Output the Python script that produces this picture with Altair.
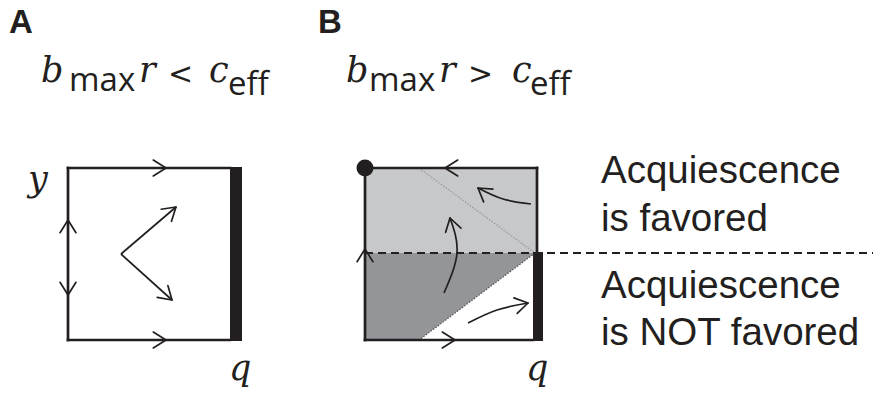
import math
import altair as alt
import pandas as pd

W, H = 873, 396
INK = "#231f20"
LIGHT = "#c7c8ca"
DARK = "#939598"

# ---- frame edges: x, y, x2, y2 ----
thin_edges = [
    (68, 168, 230, 168), (68, 340, 230, 340), (68, 168, 68, 340),          # panel A
    (365, 168, 537, 168), (365, 340, 533, 340), (365, 168, 365, 340),      # panel B
    (537, 168, 537, 253),
]
thick_bar_a = [(236, 167, 236, 341)]
thick_bar_b = [(538, 252, 538, 341)]
dashed_boundary = [(365, 253, 873, 253)]

# ---- shaded regions of panel B ----
favored_rect = [(365, 168, 537, 253)]
not_favored_x = [365, 419, 535]
not_favored_top = [253, 253, 253]
not_favored_bottom = [340, 340, 253]
upper_dotted = [(419, 168, 535, 253)]
lower_dotted = [(535, 253, 419, 340)]

# ---- straight trajectories in panel A ----
straight_arrows = [(121, 254, 176, 207), (121, 254, 172, 300)]

# ---- curved trajectories in panel B (start, through, end) ----
curves = {
    "c1": [(531, 204), (503, 199), (478, 188)],
    "c2": [(444, 293), (457, 253), (450, 218)],
    "c3": [(468, 323), (497, 310), (528, 303)],
}

# ---- arrowheads: tip x, tip y, heading (degrees, screen coords) ----
heads = [
    (166, 168, 0), (166, 340, 0), (68, 220, -90), (68, 295, 90),
    (176, 207, -40.5), (172, 300, 42),
    (445, 168, 180), (455, 340, 0), (365, 249, -90),
    (478, 188, -144), (450, 218, -105), (528, 303, -12),
]
HEAD_LEN = 15
HEAD_HALF = 32

# ---- fixed point ----
corner_point = [(365, 168)]

# ---- text ----
panel_labels = [("A", 9, 33), ("B", 318, 33)]
side_text = [
    ("Acquiescence", 601, 183), ("is favored", 601, 231),
    ("Acquiescence", 601, 298), ("is NOT favored", 601, 345),
]
serif_italic = [
    ("b", 41, 82), ("r", 139, 82), ("c", 209, 82),
    ("b", 346, 82), ("r", 439, 82), ("c", 512, 82),
    ("y", 28, 191), ("q", 229, 380), ("q", 526, 380),
]
sans_main = [("<", 168, 84), (">", 468, 84)]
sans_sub = [("max", 69, 91), ("eff", 228, 95), ("max", 369, 91), ("eff", 530, 95)]

xs = alt.Scale(domain=[0, W], range=[0, W])
ys = alt.Scale(domain=[0, H], reverse=True)


def seg_df(rows):
    return pd.DataFrame(rows, columns=["x", "y", "x2", "y2"])


def seg_layer(rows, width, color=INK, dash=None, cap="butt"):
    kw = dict(color=color, strokeWidth=width, strokeCap=cap)
    if dash is not None:
        kw["strokeDash"] = dash
    return alt.Chart(seg_df(rows)).mark_rule(**kw).encode(
        x=alt.X("x:Q", scale=xs, axis=None),
        y=alt.Y("y:Q", scale=ys, axis=None),
        x2="x2:Q", y2="y2:Q",
    )


# arrowhead arms built from each tip and heading
arm_rows = []
for tx, ty, ang in heads:
    for s in (-1, 1):
        a = math.radians(ang + 180 + s * HEAD_HALF)
        arm_rows.append((tx, ty, tx + HEAD_LEN * math.cos(a), ty + HEAD_LEN * math.sin(a)))

curve_rows = []
for name, pts in curves.items():
    for i, (px, py) in enumerate(pts):
        curve_rows.append({"id": name, "order": i, "x": px, "y": py})
curve_df = pd.DataFrame(curve_rows)

light_rect = alt.Chart(seg_df(favored_rect)).mark_rect(color=LIGHT).encode(
    x=alt.X("x:Q", scale=xs, axis=None), y=alt.Y("y:Q", scale=ys, axis=None),
    x2="x2:Q", y2="y2:Q",
)
dark_area = alt.Chart(pd.DataFrame({
    "x": not_favored_x, "y": not_favored_top, "y2": not_favored_bottom,
})).mark_area(color=DARK, opacity=1).encode(
    x=alt.X("x:Q", scale=xs, axis=None), y=alt.Y("y:Q", scale=ys, axis=None), y2="y2:Q",
)

curve_layer = alt.Chart(curve_df).mark_line(
    color=INK, strokeWidth=1.7, interpolate="natural"
).encode(
    x=alt.X("x:Q", scale=xs, axis=None), y=alt.Y("y:Q", scale=ys, axis=None),
    detail="id:N", order="order:Q",
)

dot = alt.Chart(pd.DataFrame(corner_point, columns=["x", "y"])).mark_circle(
    color=INK, opacity=1, size=290
).encode(x=alt.X("x:Q", scale=xs, axis=None), y=alt.Y("y:Q", scale=ys, axis=None))


def text_layer(rows, font, size, weight="normal", style="normal"):
    df = pd.DataFrame(rows, columns=["t", "x", "y"])
    return alt.Chart(df).mark_text(
        font=font, fontSize=size, fontWeight=weight, fontStyle=style,
        align="left", baseline="alphabetic", color=INK,
    ).encode(
        x=alt.X("x:Q", scale=xs, axis=None), y=alt.Y("y:Q", scale=ys, axis=None), text="t:N",
    )


chart = alt.layer(
    light_rect,
    dark_area,
    seg_layer(upper_dotted, 1.3, color="#9b9b9b", dash=[1.5, 1.5]),
    seg_layer(lower_dotted, 1.3, color="#555555", dash=[1.5, 1.5]),
    seg_layer(dashed_boundary, 2, dash=[8, 5]),
    seg_layer(thin_edges, 2.7, cap="square"),
    seg_layer(thick_bar_a, 12),
    seg_layer(thick_bar_b, 10),
    seg_layer(straight_arrows, 1.7),
    seg_layer(arm_rows, 1.7, cap="round"),
    curve_layer,
    dot,
    text_layer(panel_labels, "Liberation Sans", 33, weight="bold"),
    text_layer(side_text, "Liberation Sans", 38.5),
    text_layer(serif_italic, "DejaVu Serif", 35, style="italic"),
    text_layer(sans_main, "DejaVu Sans", 30),
    text_layer(sans_sub, "Open Sans", 33),
).properties(
    width=W, height=H, padding=0, autosize=alt.AutoSizeParams(type="none"),
).configure_view(stroke=None)

chart.save("out.html", embed_options={"renderer": "svg", "actions": False})
